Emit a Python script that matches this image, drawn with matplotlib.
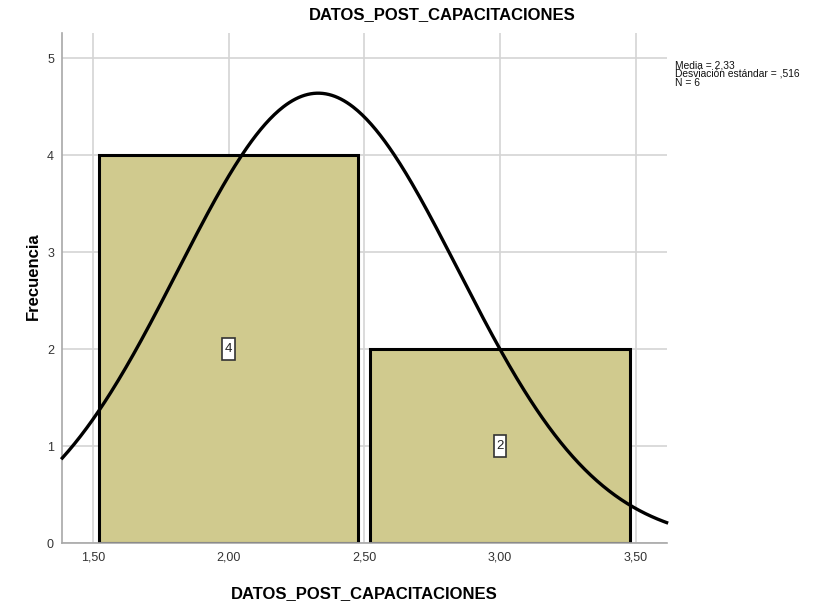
import numpy as np
import matplotlib
matplotlib.use("Agg")
import matplotlib.pyplot as plt

plt.rcParams["font.family"] = ["Liberation Sans", "DejaVu Sans"]

# ── Données ──────────────────────────────────────────────────────────────────
VAR_NAME = "DATOS_POST_CAPACITACIONES"
BIN_CENTERS = [2.0, 3.0]
COUNTS = [4, 2]
BIN_WIDTH = 1.0
MEAN = 2.33
STD = 0.516
N = 6
X_TICKS = [1.5, 2.0, 2.5, 3.0, 3.5]
X_TICK_LABELS = ["1,50", "2,00", "2,50", "3,00", "3,50"]
Y_TICKS = [0, 1, 2, 3, 4, 5]

BAR_COLOR = "#D0CA8E"
GRID_COLOR = "#D4D4D4"

fig = plt.figure(figsize=(8.25, 6.1), dpi=100)
ax = fig.add_axes([0.0755, 0.1098, 0.7325, 0.8362])

xmin, xmax = 1.388, 3.613
ax.set_xlim(xmin, xmax)
ax.set_ylim(0, 5.26)

ax.set_axisbelow(True)
ax.grid(True, color=GRID_COLOR, linewidth=1.2)

ax.bar(BIN_CENTERS, COUNTS, width=BIN_WIDTH * 0.956, color=BAR_COLOR,
       edgecolor="black", linewidth=2.2, zorder=2)

# étiquettes des effectifs (boîte blanche étroite et haute, style SPSS)
for xc, c in zip(BIN_CENTERS, COUNTS):
    ax.text(xc, c / 2, str(c), ha="center", va="center", fontsize=9.5,
            color="#222222", zorder=4,
            bbox=dict(boxstyle="square,pad=0.18", mutation_aspect=2.2,
                      facecolor="white", edgecolor="#333333", linewidth=1.2))

# courbe normale ajustée (SPSS)
xs = np.linspace(xmin, xmax, 400)
ys = N * BIN_WIDTH / (STD * np.sqrt(2 * np.pi)) * np.exp(-0.5 * ((xs - MEAN) / STD) ** 2)
ax.plot(xs, ys, color="black", linewidth=2.4, zorder=3, clip_on=False)

ax.set_xticks(X_TICKS)
ax.set_xticklabels(X_TICK_LABELS)
ax.set_yticks(Y_TICKS)
ax.tick_params(length=0, labelsize=9, colors="#333333", pad=6)

for s in ["top", "right"]:
    ax.spines[s].set_visible(False)
for s in ["left", "bottom"]:
    ax.spines[s].set_color("#A8A8A8")
    ax.spines[s].set_linewidth(1.2)

fig.text(442 / 825, 1 - 15 / 610, VAR_NAME, ha="center", va="center",
         fontsize=12, fontweight="bold")
fig.text(364 / 825, 1 - 594 / 610, VAR_NAME, ha="center", va="center",
         fontsize=12, fontweight="bold")
fig.text(33 / 825, 1 - 276 / 610, "Frecuencia", ha="center", va="center",
         rotation=90, fontsize=12, fontweight="bold")

stats = ["Media = 2,33", "Desviación estándar = ,516", f"N = {N}"]
fig.text(675 / 825, 1 - 60 / 610, "\n".join(stats), ha="left", va="top",
         fontsize=7.4, color="#111111", linespacing=0.85)

fig.savefig("out.png", dpi=100)
